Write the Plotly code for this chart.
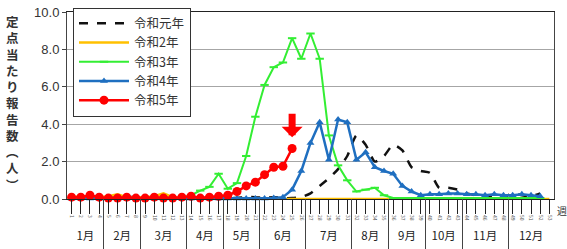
import plotly.graph_objects as go

# ---- data ----
weeks = list(range(1, 54))
week_labels = [str(w) for w in weeks]
months = ["1月", "2月", "3月", "4月", "5月", "6月", "7月", "8月", "9月", "10月", "11月", "12月"]
month_first_week = [1, 5, 9, 14, 18, 22, 27, 32, 36, 40, 44, 49]
month_last_week = [4, 8, 13, 17, 21, 26, 31, 35, 39, 43, 48, 53]
y_ticks = [0, 2, 4, 6, 8, 10]
series_names = ["令和元年", "令和2年", "令和3年", "令和4年", "令和5年"]

r1 = [0.1, 0.1, 0.15, 0.1, 0.1, 0.05, 0.1, 0.1, 0.05, 0.05, 0.1, 0.05, 0.05,
      0.05, 0.05, 0.05, 0.05, 0.05, 0.05, 0.1, 0.1, 0.05, 0.1, 0.05, 0.05, 0.1,
      0.3, 0.7, 1.1, 1.6, 2.3, 3.4, 2.9, 2.0, 2.3, 2.9, 2.6, 1.7, 1.5, 1.4,
      0.6, 0.6, 0.5, 0.3, 0.2, 0.1, 0.1, 0.1, 0.3, 0.2, 0.15, 0.3, None]
r2 = [0.1, 0.15, 0.1, 0.1, 0.15, 0.25, 0.1, 0.1, 0.1, 0.15, 0.3, 0.1, 0.05,
      0.05, 0.02, 0.0, 0.0, 0.0, 0.0, 0.0, 0.0, 0.0, 0.0, 0.0, 0.0, 0.0,
      0.0, 0.0, 0.0, 0.0, 0.0, 0.0, 0.0, 0.0, 0.0, 0.0, 0.0, 0.0, 0.0, 0.0,
      0.0, 0.0, 0.0, 0.0, 0.0, 0.0, 0.0, 0.0, 0.0, 0.0, 0.0, 0.0, 0.0]
r3 = [0.02, 0.02, 0.02, 0.02, 0.02, 0.02, 0.02, 0.02, 0.02, 0.02, 0.02, 0.02, 0.05,
      0.2, 0.45, 0.65, 1.35, 0.55, 0.85, 2.3, 4.4, 6.1, 7.05, 7.3, 8.6, 7.5,
      8.85, 7.5, 3.4, 1.8, 1.0, 0.4, 0.5, 0.6, 0.2, 0.05, 0.05, 0.05, 0.05, 0.05,
      0.05, 0.05, 0.05, 0.05, 0.05, 0.05, 0.05, 0.05, 0.05, 0.05, 0.05, 0.05, None]
r4 = [0.03, 0.03, 0.03, 0.03, 0.03, 0.03, 0.03, 0.03, 0.03, 0.03, 0.03, 0.03, 0.03,
      0.03, 0.03, 0.03, 0.03, 0.03, 0.03, 0.03, 0.03, 0.03, 0.05, 0.1, 0.5, 1.5,
      3.0, 4.1, 2.1, 4.25, 4.1, 2.1, 2.5, 1.7, 1.5, 1.35, 0.7, 0.4, 0.2, 0.25,
      0.25, 0.3, 0.3, 0.25, 0.25, 0.2, 0.25, 0.2, 0.2, 0.25, 0.2, 0.15, None]
r5 = [0.1, 0.1, 0.2, 0.1, 0.05, 0.05, 0.1, 0.05, 0.05, 0.1, 0.05, 0.05, 0.1,
      0.15, 0.05, 0.1, 0.15, 0.2, 0.4, 0.7, 0.9, 1.3, 1.7, 1.75, 2.7] + [None] * 28
arrow_week = 25
arrow_tip_value = 3.3

CJK = "Noto Sans CJK JP"

W, H = 567, 249
ML, MR, MT, MB = 67, 13, 12, 0
PH = H - MT - MB          # plotting height (main + month strip)
PW = W - ML - MR
STRIP = 50                # month strip height in px

fig = go.Figure()
fig.add_trace(go.Scatter(x=weeks, y=r1, name=series_names[0], mode="lines",
                         line=dict(color="#111111", width=2.5, dash="dash", shape="spline", smoothing=0.6),
                         cliponaxis=False))
fig.add_trace(go.Scatter(x=weeks, y=r2, name=series_names[1], mode="lines",
                         line=dict(color="#FFC000", width=2.5), cliponaxis=False))
fig.add_trace(go.Scatter(x=weeks, y=r3, name=series_names[2], mode="lines+markers",
                         line=dict(color="#33EE33", width=2),
                         marker=dict(symbol="line-ew", size=6, line=dict(color="#33EE33", width=2)),
                         cliponaxis=False))
fig.add_trace(go.Scatter(x=weeks, y=r4, name=series_names[3], mode="lines+markers",
                         line=dict(color="#1F6FC0", width=2.5),
                         marker=dict(symbol="triangle-up", size=7, color="#1F6FC0"),
                         cliponaxis=False))
fig.add_trace(go.Scatter(x=weeks, y=r5, name=series_names[4], mode="lines+markers",
                         line=dict(color="#FF0000", width=2.5),
                         marker=dict(symbol="circle", size=9, color="#FF0000"),
                         cliponaxis=False))

# month row (lower strip)
month_centers = [(a + b) / 2 for a, b in zip(month_first_week, month_last_week)]
month_bounds = [0.5] + [b + 0.5 for b in month_last_week]
fig.add_trace(go.Scatter(x=month_centers, y=[0.24] * len(months), text=months, mode="text",
                         textposition="middle center",
                         textfont=dict(size=11.5, color="#222", family=CJK),
                         xaxis="x2", yaxis="y2", showlegend=False, hoverinfo="skip",
                         cliponaxis=False))

fig.update_layout(
    width=W, height=H,
    margin=dict(l=ML, r=MR, t=MT, b=MB, autoexpand=False),
    paper_bgcolor="white", plot_bgcolor="white",
    font=dict(family=CJK, color="#222"),
    xaxis=dict(domain=[0, 1], range=[0.5, 53.5], anchor="y",
               tickmode="array", tickvals=weeks, ticktext=week_labels,
               ticks="outside", ticklen=14, tickcolor="#222", tickwidth=1,
               tickfont=dict(size=5, color="#555"), tickangle=90,
               showline=True, linecolor="#222", linewidth=1, mirror=True,
               showgrid=False, zeroline=False, automargin=False),
    yaxis=dict(domain=[STRIP / PH, 1], range=[0, 10], tickvals=y_ticks,
               tickformat=".1f", ticks="outside", ticklen=4, tickcolor="#444",
               tickfont=dict(size=13, color="#333", family="Liberation Sans"),
               ticklabeloverflow="allow",
               showline=True, linecolor="#444", linewidth=1, mirror=True,
               showgrid=True, gridcolor="#A6A6A6", gridwidth=1,
               zeroline=False, automargin=False),
    xaxis2=dict(domain=[0, 1], range=[0.5, 53.5], anchor="y2",
                tickmode="array", tickvals=month_bounds, showticklabels=False,
                ticks="", showgrid=True, gridcolor="#444", gridwidth=1,
                showline=False, zeroline=False, automargin=False),
    yaxis2=dict(domain=[0, STRIP / PH], range=[0, 1], visible=False),
    legend=dict(x=6 / PW, y=1 + 3.5 / (PH - STRIP), xanchor="left", yanchor="top",
                bordercolor="#333", borderwidth=1, bgcolor="white",
                font=dict(size=12.5, family=CJK, color="#333"),
                itemwidth=50, tracegroupgap=0),
    showlegend=True,
)

ytitle = "<br>".join(list("定点当たり報告数") + ["︵", "人", "︶"])
fig.add_annotation(text="<b>" + ytitle + "</b>", xref="paper", yref="paper",
                   x=-(ML - 12) / PW, y=(H - 103 - MB) / PH,
                   xanchor="center", yanchor="middle",
                   showarrow=False, font=dict(size=12.5, family=CJK, color="#333"))
fig.add_annotation(text="週", xref="paper", yref="paper", x=1.0, xshift=1,
                   y=(H - 210) / PH, xanchor="left", yanchor="middle",
                   showarrow=False, font=dict(size=10, family=CJK, color="#333"))
fig.add_annotation(x=arrow_week, y=arrow_tip_value, xref="x", yref="y", text="",
                   showarrow=True, ax=0, ay=-25, arrowhead=1, arrowwidth=7,
                   arrowsize=0.5, arrowcolor="#FF0000")

# remove the browser's default 8px page margin so the figure fills the window
fig.write_html("out.html", config={"displayModeBar": False},
               post_script="document.body.style.margin='0';document.body.style.overflow='hidden';")
